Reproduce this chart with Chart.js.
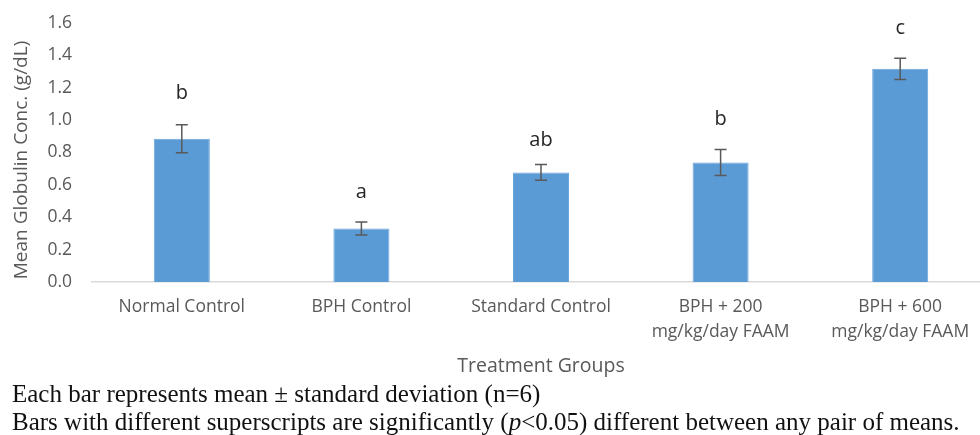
<!DOCTYPE html>
<html>
<head>
<meta charset="utf-8">
<script src="https://cdn.jsdelivr.net/npm/chart.js@4"></script>
<style>
  html, body { margin: 0; padding: 0; background: #fff; overflow: hidden; width: 980px; height: 435px; }
  #wrap { position: absolute; left: 0; top: 0; width: 992px; height: 435px; }
  .note { position: absolute; left: 12px; font-family: "Liberation Serif", "Times New Roman", serif; font-size: 25px; color: #111; white-space: nowrap; line-height: 1; }
</style>
</head>
<body>
<div id="wrap"><canvas id="c" width="992" height="435"></canvas></div>
<div class="note" id="n1" style="top:381px;">Each bar represents mean ± standard deviation (n=6)</div>
<div class="note" id="n2" style="top:409px;">Bars with different superscripts are significantly (<i>p</i>&lt;0.05) different between any pair of means.</div>
<script>
const categories = ["Normal Control", "BPH Control", "Standard Control", ["BPH + 200", "mg/kg/day FAAM"], ["BPH + 600", "mg/kg/day FAAM"]];
const meanValues = [0.885, 0.33, 0.677, 0.738, 1.317];
const sdValues = [0.087, 0.04, 0.049, 0.08, 0.066];
const letters = ["b", "a", "ab", "b", "c"];
const letterPos = [1.163, 0.554, 0.874, 1.003, 1.57];
const yTicks = [0, 0.2, 0.4, 0.6, 0.8, 1.0, 1.2, 1.4, 1.6];
const xTitle = "Treatment Groups";
const yTitle = "Mean Globulin Conc. (g/dL)";

const FONT = "'Open Sans', 'Noto Sans', sans-serif";

const overlay = {
  id: 'overlay',
  afterDatasetsDraw(chart) {
    const ctx = chart.ctx;
    const ys = chart.scales.y;
    const ca = chart.chartArea;
    const meta = chart.getDatasetMeta(0);
    ctx.save();
    ctx.strokeStyle = '#595959';
    ctx.lineWidth = 1.5;
    meta.data.forEach((bar, i) => {
      const top = ys.getPixelForValue(meanValues[i] + sdValues[i]);
      const bot = ys.getPixelForValue(meanValues[i] - sdValues[i]);
      const x = bar.x;
      ctx.beginPath();
      ctx.moveTo(x, top); ctx.lineTo(x, bot);
      ctx.moveTo(x - 6, top); ctx.lineTo(x + 6, top);
      ctx.moveTo(x - 6, bot); ctx.lineTo(x + 6, bot);
      ctx.stroke();
    });
    ctx.fillStyle = '#262626';
    ctx.font = "20px " + FONT;
    ctx.textAlign = 'center';
    ctx.textBaseline = 'middle';
    meta.data.forEach((bar, i) => {
      ctx.fillText(letters[i], bar.x, ys.getPixelForValue(letterPos[i]));
    });
    ctx.fillStyle = '#595959';
    ctx.font = "19.5px " + FONT;
    ctx.textAlign = 'center';
    ctx.textBaseline = 'middle';
    ctx.fillText(xTitle, (ca.left + ca.right) / 2, 366);
    ctx.translate(22, 160);
    ctx.rotate(-Math.PI / 2);
    ctx.font = "19px " + FONT;
    ctx.fillText(yTitle, 0, 0);
    ctx.restore();
  }
};

new Chart(document.getElementById('c'), {
  type: 'bar',
  data: {
    labels: categories,
    datasets: [{
      data: meanValues,
      backgroundColor: '#5b9bd5',
      borderColor: '#6aa6dc',
      borderWidth: 1,
      barPercentage: 0.312,
      categoryPercentage: 1.0
    }]
  },
  options: {
    responsive: false,
    animation: false,
    layout: { padding: { top: 0, right: 2, left: 0, bottom: 0 } },
    plugins: { legend: { display: false }, tooltip: { enabled: false } },
    scales: {
      y: {
        min: 0, max: 1.6,
        afterBuildTicks: (s) => { s.ticks = yTicks.map(v => ({ value: v })); },
        afterFit: (s) => { s.width = 92; },
        ticks: {
          color: '#595959',
          font: { family: FONT, size: 17.5 },
          padding: 12.5,
          callback: (v) => Number(v).toFixed(1)
        },
        grid: { display: false, drawTicks: true, tickLength: 7.5 },
        border: { display: false }
      },
      x: {
        afterFit: (s) => { s.height = 153; },
        grid: { display: false, drawTicks: false },
        border: { display: true, color: '#d9d9d9', width: 1.5 },
        ticks: {
          color: '#595959',
          font: { family: FONT, size: 17.5, lineHeight: 1.4 },
          padding: 13,
          maxRotation: 0,
          autoSkip: false
        }
      }
    }
  },
  plugins: [overlay]
});
</script>
</body>
</html>
